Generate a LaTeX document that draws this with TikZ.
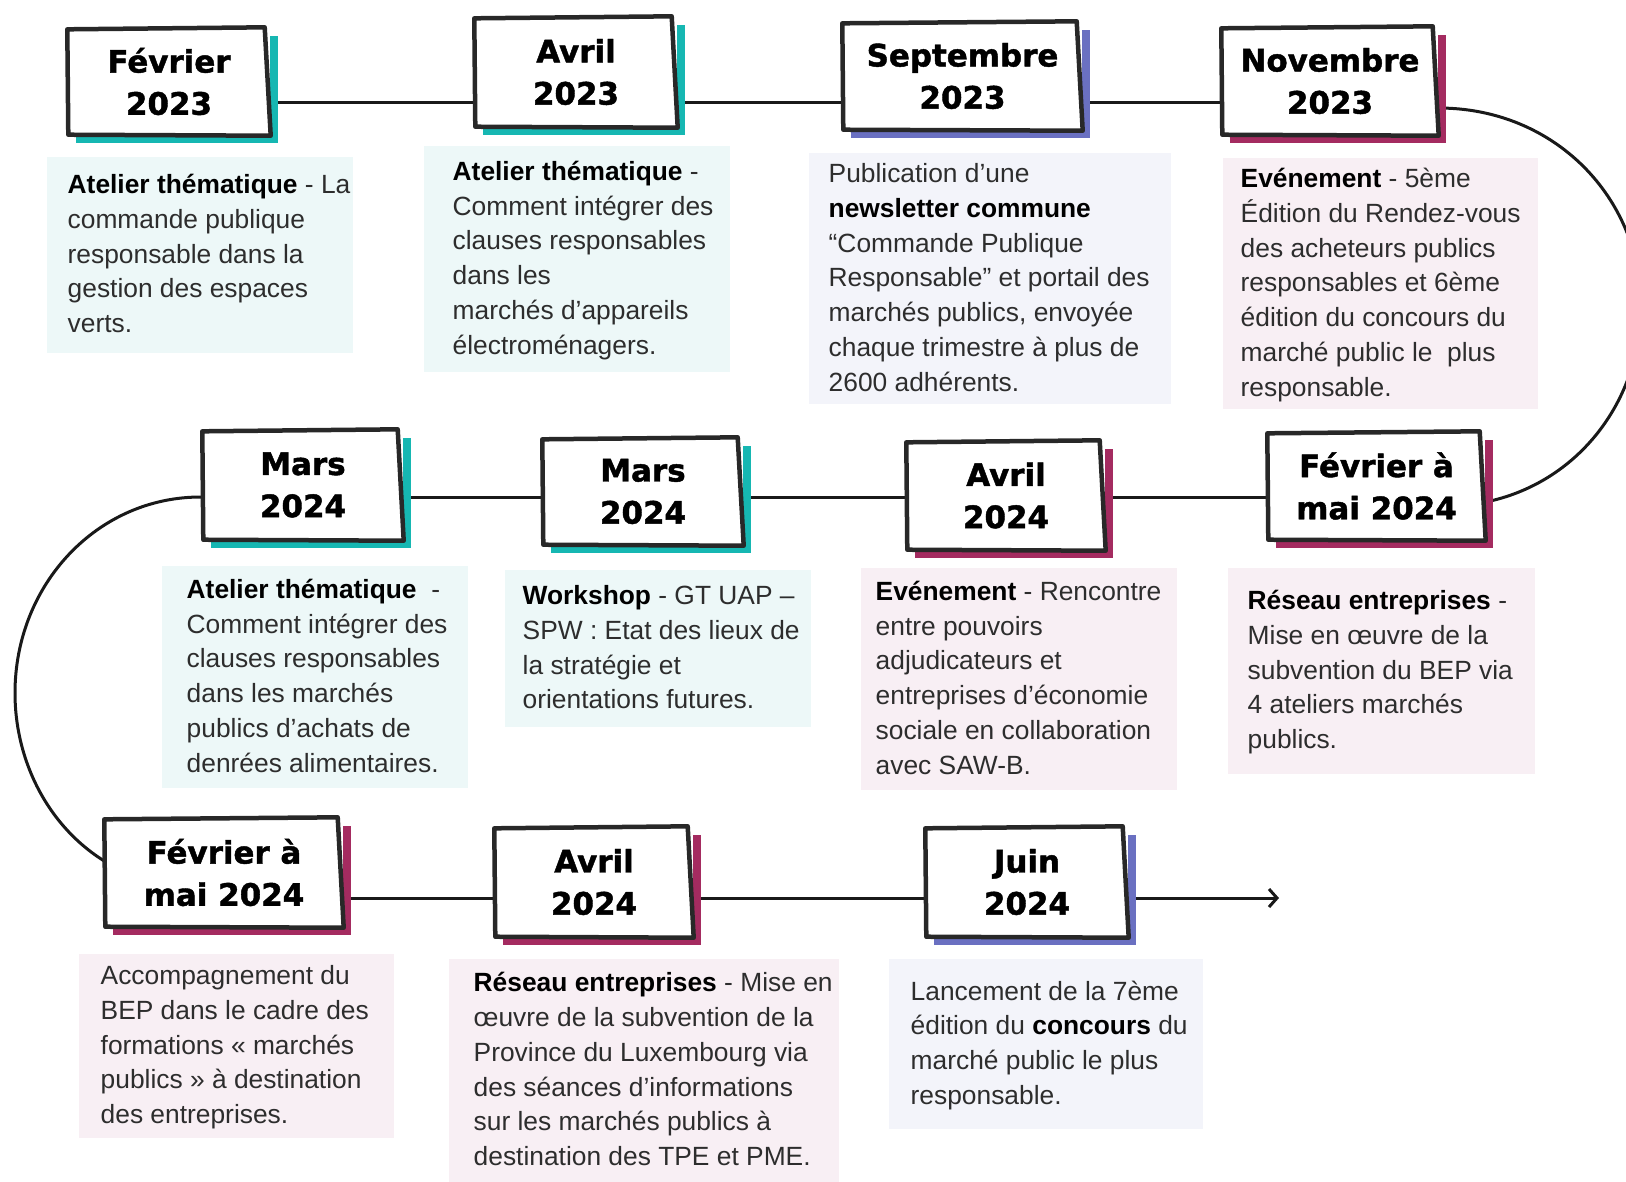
\documentclass[tikz,border=0pt]{standalone}
\usepackage{fontspec}
\setmainfont{Liberation Sans}
\newfontfamily\datefont{DejaVu Sans}[BoldFeatures={FakeBold=1.4}]
\usetikzlibrary{positioning,arrows.meta,calc,shadows,backgrounds}
\definecolor{boxteal}{RGB}{22,183,178}
\definecolor{boxplum}{RGB}{164,43,96}
\definecolor{boxlilac}{RGB}{106,112,193}
\definecolor{fillteal}{RGB}{237,248,248}
\definecolor{fillplum}{RGB}{248,239,244}
\definecolor{filllilac}{RGB}{243,244,250}
\definecolor{bodygray}{RGB}{45,45,45}
\definecolor{inkdark}{RGB}{40,40,40}
\newcommand{\strongtxt}[1]{\textcolor{black}{\textbf{#1}}}
\tikzset{
  datebox/.style={fill=white, inner sep=0pt, minimum width=20mm, minimum height=10.9mm, align=center,
    font=\datefont\bfseries\fontsize{8.8pt}{12pt}\selectfont,
    drop shadow={shadow xshift=0.8mm, shadow yshift=-0.8mm, opacity=1, fill=#1}},
  boxline/.style={line width=0.45mm, draw=inkdark, line join=round, line cap=round},
  textbox/.style={fill=#1, anchor=north west, inner sep=0pt, align=flush left, text=bodygray,
    font=\fontsize{7.5pt}{9.88pt}\selectfont,
    execute at end node={\rule[-1.3mm]{0pt}{1.3mm}}},
  lpad/.style={execute at begin node={\leftskip=#1\relax\rule{0pt}{3mm}}},
  timeline/.style={line width=0.3mm, draw=black!90}
}
\begin{document}
\begin{tikzpicture}[x=0.1mm, y=-0.1mm]
  \useasboundingbox (0,0) rectangle (1626,1181);
  \coordinate (row1) at (0,102);
  \coordinate (row2) at (0,497);
  \coordinate (row3) at (0,898);
  \coordinate (arrowtip) at (1279,898);

  % date boxes
  \node[datebox=boxteal,  minimum width=20.2mm, minimum height=10.7mm] (feb23)   at (169,81.5)   {Février\\2023};
  \node[datebox=boxteal,  minimum width=20.2mm, minimum height=11mm]   (avr23)   at (576,72)     {Avril\\2023};
  \node[datebox=boxlilac, minimum width=23.9mm, minimum height=10.8mm] (sep23)   at (962.5,76)   {Septembre\\2023};
  \node[datebox=boxplum,  minimum width=21.6mm, minimum height=10.8mm] (nov23)   at (1330,81)    {Novembre\\2023};
  \node[datebox=boxteal,  minimum width=20mm,   minimum height=11mm]   (marsA)   at (303,485)    {Mars\\2024};
  \node[datebox=boxteal,  minimum width=20mm,   minimum height=10.7mm] (marsB)   at (643,491.5)  {Mars\\2024};
  \node[datebox=boxplum,  minimum width=19.8mm, minimum height=10.9mm] (avrA)    at (1006,495.5) {Avril\\2024};
  \node[datebox=boxplum,  minimum width=21.7mm, minimum height=10.8mm] (fevmaiA) at (1376.5,486) {Février à\\mai 2024};
  \node[datebox=boxplum,  minimum width=23.8mm, minimum height=10.9mm] (fevmaiB) at (224,872.5)  {Février à\\mai 2024};
  \node[datebox=boxplum,  minimum width=19.8mm, minimum height=11mm]   (avrB)    at (594,882)    {Avril\\2024};
  \node[datebox=boxlilac, minimum width=20.2mm, minimum height=11mm]   (juin)    at (1027,882)   {Juin\\2024};

  \foreach \n in {feb23,avr23,sep23,nov23,marsA,marsB,avrA,fevmaiA,fevmaiB,avrB,juin}
    \draw[boxline] ($(\n.north west)+(0,2)$) -- ($(\n.north east)+(-6,0)$) -- (\n.south east) -- ($(\n.south west)+(1,-1)$) -- cycle;

  % text boxes
  \node[textbox=fillteal, lpad=2.1mm, text width=30.6mm, minimum height=19.6mm] (txtfeb23) at (46,156)
    {\strongtxt{Atelier thématique} - La\\commande publique\\responsable dans la\\gestion des espaces\\verts.};
  \node[textbox=fillteal, lpad=2.9mm, text width=30.6mm, minimum height=22.6mm] (txtavr23) at (423,145)
    {\strongtxt{Atelier thématique} -\\Comment intégrer des\\clauses responsables\\dans les\\marchés d’appareils\\électroménagers.};
  \node[textbox=filllilac, lpad=2mm, text width=36.2mm, minimum height=25.1mm] (txtsep23) at (808,152)
    {Publication d’une\\\strongtxt{newsletter commune}\\“Commande Publique\\Responsable” et portail des\\marchés publics, envoyée\\chaque trimestre à plus de\\2600 adhérents.};
  \node[textbox=fillplum, lpad=1.8mm, text width=31.5mm, minimum height=25.1mm] (txtnov23) at (1222,157)
    {\strongtxt{Evénement} - 5ème\\Édition du Rendez-vous\\des acheteurs publics\\responsables et 6ème\\édition du concours du\\marché public le\ \ plus\\responsable.};
  \node[textbox=fillteal, lpad=2.5mm, text width=30.6mm, minimum height=22.2mm] (txtmarsA) at (161,565)
    {\strongtxt{Atelier thématique}\ \ -\\Comment intégrer des\\clauses responsables\\dans les marchés\\publics d’achats de\\denrées alimentaires.};
  \node[textbox=fillteal, lpad=1.8mm, text width=30.6mm, minimum height=15.7mm] (txtmarsB) at (504,569)
    {\strongtxt{Workshop} - GT UAP –\\SPW : Etat des lieux de\\la stratégie et\\orientations futures.};
  \node[textbox=fillplum, lpad=1.5mm, text width=31.6mm, minimum height=22.2mm] (txtavrA) at (860,567)
    {\strongtxt{Evénement} - Rencontre\\entre pouvoirs\\adjudicateurs et\\entreprises d’économie\\sociale en collaboration\\avec SAW-B.};
  \node[textbox=fillplum, lpad=2mm, text width=30.7mm, minimum height=20.6mm] (txtfevmaiA) at (1227,567)
    {\strongtxt{Réseau entreprises} -\\Mise en œuvre de la\\subvention du BEP via\\4 ateliers marchés\\publics.};
  \node[textbox=fillplum, lpad=2.2mm, text width=31.5mm, minimum height=18.4mm] (txtfevmaiB) at (78,953)
    {Accompagnement du\\BEP dans le cadre des\\formations « marchés\\publics » à destination\\des entreprises.};
  \node[textbox=fillplum, lpad=2.5mm, text width=39mm, minimum height=22.3mm] (txtavrB) at (448,958)
    {\strongtxt{Réseau entreprises} - Mise en\\œuvre de la subvention de la\\Province du Luxembourg via\\des séances d’informations\\sur les marchés publics à\\destination des TPE et PME.};
  \node[textbox=filllilac, lpad=2.2mm, text width=31.4mm, minimum height=17mm] (txtjuin) at (888,958)
    {Lancement de la 7ème\\édition du \strongtxt{concours} du\\marché public le plus\\responsable.};

  % timeline
  \begin{scope}[on background layer]
    \foreach \a/\b in {feb23/avr23,avr23/sep23,sep23/nov23}
      \draw[timeline] (\a.east |- row1) -- (\b.west |- row1);
    \foreach \a/\b in {marsA/marsB,marsB/avrA,avrA/fevmaiA}
      \draw[timeline] (\a.east |- row2) -- (\b.west |- row2);
    \foreach \a/\b in {fevmaiB/avrB,avrB/juin}
      \draw[timeline] (\a.east |- row3) -- (\b.west |- row3);
    \draw[timeline] (nov23.east |- 0,108) .. controls (1555,108) and (1641,198) .. (1641,306)
      .. controls (1641,401) and (1578,483) .. (fevmaiA.east |- 0,502);
    \draw[timeline] (marsA.west |- row2) .. controls (98,496) and (15,584) .. (15,693)
      .. controls (15,761) and (48,826) .. (fevmaiB.west |- 0,861);
    \draw[timeline, -{Straight Barb[length=0.8mm, width=1.8mm]}] (juin.east |- row3) -- (arrowtip);
  \end{scope}
\end{tikzpicture}
\end{document}
